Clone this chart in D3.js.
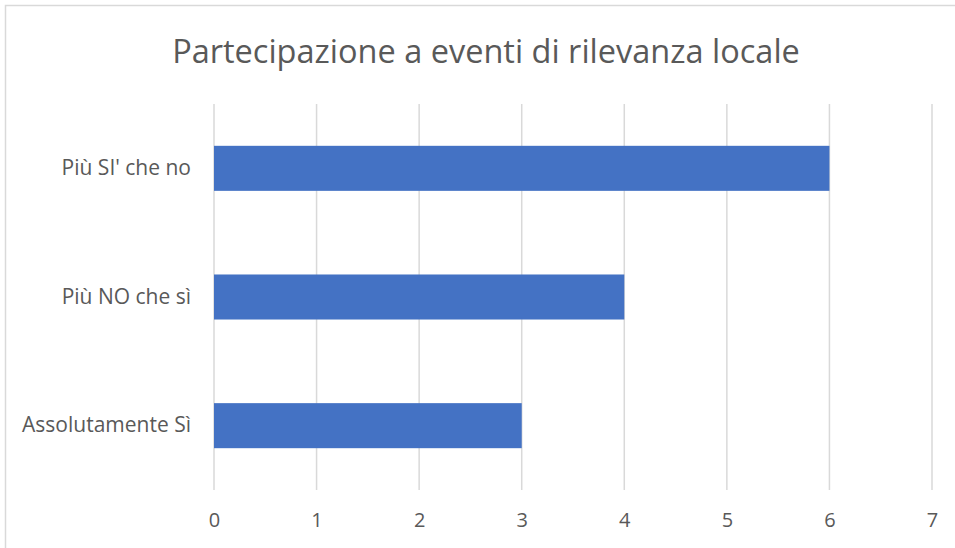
<!DOCTYPE html>
<html><head><meta charset="utf-8">
<script src="https://cdn.jsdelivr.net/npm/d3@7"></script>
<style>body{margin:0;background:#fff}svg{display:block}text{font-family:"Open Sans","Noto Sans",sans-serif}</style>
</head><body><div id="chart"></div>
<script>
const title = "Partecipazione a eventi di rilevanza locale";
const categories = ["Più SI' che no", "Più NO che sì", "Assolutamente Sì"];
const values = [6, 4, 3];
const xTicks = [0, 1, 2, 3, 4, 5, 6, 7];

const W = 955, H = 548;
const m = {left: 214, right: 23, top: 104, bottom: 58};
const svg = d3.select("#chart").append("svg").attr("width", W).attr("height", H);
svg.append("rect").attr("x", 5.5).attr("y", 5.5).attr("width", W).attr("height", H)
  .attr("fill", "#fff").attr("stroke", "#d9d9d9").attr("stroke-width", 1.5);

const x = d3.scaleLinear().domain([0, 7]).range([m.left, W - m.right]);
const y = d3.scaleBand().domain(categories).range([m.top, H - m.bottom]).paddingInner(0.65).paddingOuter(0.325);

svg.append("g").selectAll("line").data(xTicks).join("line")
  .attr("x1", d => x(d)).attr("x2", d => x(d))
  .attr("y1", m.top).attr("y2", H - m.bottom)
  .attr("stroke", "#d9d9d9").attr("stroke-width", 1.5);

svg.append("g").selectAll("rect").data(categories).join("rect")
  .attr("x", x(0)).attr("y", d => y(d))
  .attr("width", (d, i) => x(values[i]) - x(0)).attr("height", y.bandwidth())
  .attr("fill", "#4472c4");

const xAxis = svg.append("g").attr("transform", `translate(0,${H - m.bottom})`)
  .call(d3.axisBottom(x).tickValues(xTicks).tickFormat(d3.format("d")).tickSize(0).tickPadding(23));
xAxis.select(".domain").remove();
xAxis.selectAll("text").attr("fill", "#595959").style("font-size", "20px");

const yAxis = svg.append("g").attr("transform", `translate(${m.left},0)`)
  .call(d3.axisLeft(y).tickSize(0).tickPadding(23));
yAxis.select(".domain").remove();
yAxis.selectAll("text").attr("fill", "#595959").style("font-size", "21px");

svg.append("text").attr("x", 486).attr("y", 63).attr("text-anchor", "middle")
  .attr("fill", "#595959").style("font-size", "32.5px").text(title);
</script></body></html>
